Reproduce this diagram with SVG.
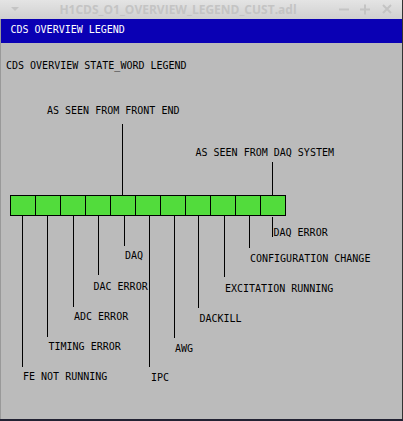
<svg xmlns="http://www.w3.org/2000/svg" width="403" height="421" viewBox="0 0 403 421">
<defs>
<linearGradient id="tb" x1="0" y1="0" x2="0" y2="1"><stop offset="0" stop-color="#e4e4e4"/><stop offset="1" stop-color="#d0d0d0"/></linearGradient>
</defs>
<style>
.t{font-family:"DejaVu Sans Mono","Liberation Mono",monospace;font-size:10px;fill:#000}
.w{fill:#fff}
.ln{stroke:#000;stroke-width:1;fill:none}
.cell{fill:#52dc3c;stroke:#000;stroke-width:1}
</style>
<rect x="0" y="0" width="403" height="421" fill="#bbbbbb"/>
<rect x="0" y="0" width="403" height="19" fill="url(#tb)"/>
<text x="178" y="14" text-anchor="middle" font-family="Open Sans, DejaVu Sans, sans-serif" font-weight="bold" font-size="12" fill="#c4c4c4">H1CDS_O1_OVERVIEW_LEGEND_CUST.adl</text>
<path d="M11 7 L15 11 L19 7 Z" fill="#c4c4c4"/>
<path d="M339 9.5 H349" stroke="#c4c4c4" stroke-width="2"/>
<path d="M360 9.5 H370 M365 4.5 V14.5" stroke="#c4c4c4" stroke-width="2"/>
<path d="M383 5 L391 13 M391 5 L383 13" stroke="#c4c4c4" stroke-width="2"/>
<rect x="1" y="19" width="401" height="24" fill="#0a00b4"/>
<rect x="0" y="19" width="1" height="400" fill="#999"/>
<rect x="402" y="0" width="1" height="421" fill="#333"/>
<rect x="0" y="419" width="403" height="2" fill="#223"/>
<text class="t w" x="10.5" y="33">CDS OVERVIEW LEGEND</text>
<text class="t" x="6" y="69">CDS OVERVIEW STATE_WORD LEGEND</text>
<text class="t" x="47" y="114">AS SEEN FROM FRONT END</text>
<text class="t" x="195.5" y="156">AS SEEN FROM DAQ SYSTEM</text>
<g id="bar">
<rect class="cell" x="10.5" y="195.5" width="25" height="20"/>
<rect class="cell" x="35.5" y="195.5" width="25" height="20"/>
<rect class="cell" x="60.5" y="195.5" width="25" height="20"/>
<rect class="cell" x="85.5" y="195.5" width="25" height="20"/>
<rect class="cell" x="110.5" y="195.5" width="25" height="20"/>
<rect class="cell" x="135.5" y="195.5" width="25" height="20"/>
<rect class="cell" x="160.5" y="195.5" width="25" height="20"/>
<rect class="cell" x="185.5" y="195.5" width="25" height="20"/>
<rect class="cell" x="210.5" y="195.5" width="25" height="20"/>
<rect class="cell" x="235.5" y="195.5" width="25" height="20"/>
<rect class="cell" x="260.5" y="195.5" width="25" height="20"/>
</g>
<g id="connectors">
<path class="ln" d="M122.5 124 V195 M272.5 162 V195"/>
<path class="ln" d="M22.5 216 V367 M47.5 216 V337 M73.5 216 V307 M98.5 216 V275 M124.5 216 V246 M149.5 216 V367 M174.5 216 V338 M198.5 216 V308 M224.5 216 V277 M249.5 216 V248 M272.5 217 V237"/>
</g>
<g id="labels">
<text class="t" x="23" y="380">FE NOT RUNNING</text>
<text class="t" x="48.5" y="350">TIMING ERROR</text>
<text class="t" x="74" y="320">ADC ERROR</text>
<text class="t" x="93.5" y="290">DAC ERROR</text>
<text class="t" x="125" y="259">DAQ</text>
<text class="t" x="151" y="381">IPC</text>
<text class="t" x="175" y="352">AWG</text>
<text class="t" x="199.5" y="322">DACKILL</text>
<text class="t" x="225" y="292">EXCITATION RUNNING</text>
<text class="t" x="250" y="262">CONFIGURATION CHANGE</text>
<text class="t" x="273.5" y="236">DAQ ERROR</text>
</g>
</svg>
